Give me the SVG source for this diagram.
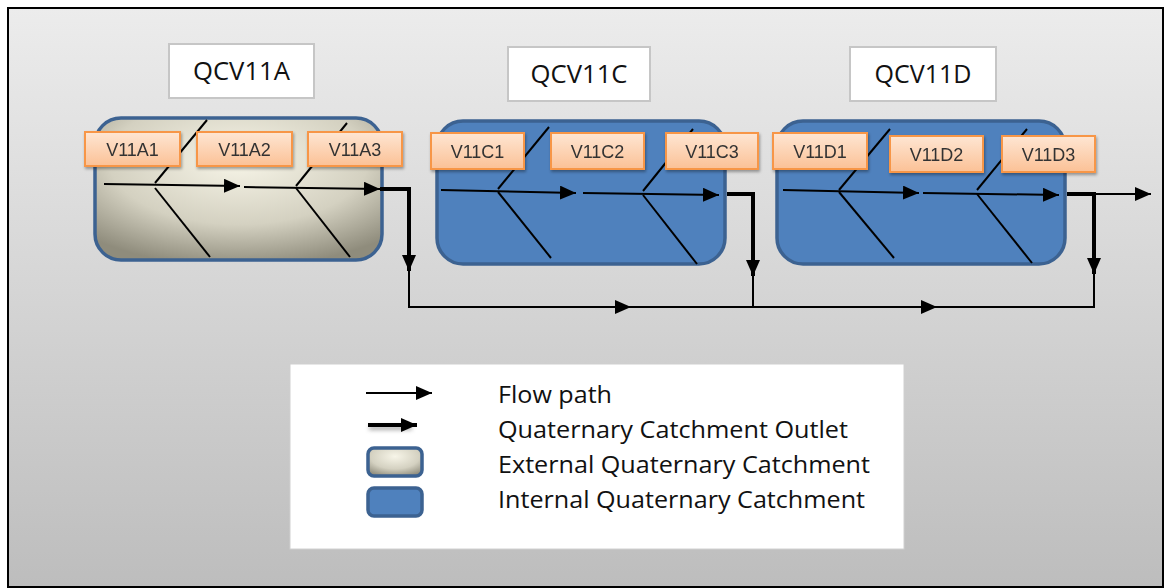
<svg xmlns="http://www.w3.org/2000/svg" width="1165" height="588" viewBox="0 0 1165 588">
<defs>
<linearGradient id="bg" x1="0" y1="0" x2="0" y2="1"><stop offset="0" stop-color="#ececec"/><stop offset="1" stop-color="#bdbdbd"/></linearGradient>
<radialGradient id="ext" cx="0.5" cy="0.3" r="0.75"><stop offset="0" stop-color="#f7f5e8"/><stop offset="0.6" stop-color="#d4d1c1"/><stop offset="1" stop-color="#8f8c7c"/></radialGradient>
<linearGradient id="lab" x1="0" y1="0" x2="0" y2="1"><stop offset="0" stop-color="#fee6d3"/><stop offset="1" stop-color="#fbc196"/></linearGradient>
<marker id="ah" markerWidth="16" markerHeight="14" refX="16" refY="7" orient="auto" markerUnits="userSpaceOnUse"><path d="M0,0 L16,7 L0,14 Z" fill="#000"/></marker>
<marker id="ahb" markerWidth="16" markerHeight="14" refX="16" refY="7" orient="auto" markerUnits="userSpaceOnUse"><path d="M0,0 L16,7 L0,14 Z" fill="#000"/></marker>
<filter id="sh" x="-10%" y="-10%" width="130%" height="140%"><feDropShadow dx="1" dy="2" stdDeviation="1.5" flood-color="#000" flood-opacity="0.35"/></filter>
<filter id="blur" filterUnits="userSpaceOnUse" x="350" y="410" width="90" height="30"><feGaussianBlur stdDeviation="2"/></filter>
</defs>
<style>
.title{fill:#fff;stroke:#c6c6c6;stroke-width:2}
.tt{font-family:"Open Sans","Liberation Sans",sans-serif;font-size:25px;fill:#111;text-anchor:middle}
.ext{fill:url(#ext);stroke:#3c6291;stroke-width:3.5}
.int{fill:#4f81bd;stroke:#3c6291;stroke-width:3.5}
.lab{fill:url(#lab);stroke:#f79646;stroke-width:2}
.lt{font-family:"Liberation Sans",Arial,sans-serif;font-size:18px;fill:#333;text-anchor:middle}
.fl{stroke:#000;stroke-width:2;fill:none}
.bone{stroke:#000;stroke-width:2;fill:none}
.out{stroke:#000;stroke-width:4;fill:none}
.leg{font-family:"Open Sans","Liberation Sans",sans-serif;font-size:24px;fill:#111}
</style>
<rect x="0" y="0" width="1165" height="588" fill="#fff"/>
<rect x="8" y="8" width="1155" height="579" fill="url(#bg)" stroke="#000" stroke-width="2"/>

<g id="QCV11A"><rect class="title" x="169" y="44" width="145" height="54"/><text class="tt" x="241.5" y="80" textLength="97" lengthAdjust="spacingAndGlyphs">QCV11A</text></g>
<g id="QCV11C"><rect class="title" x="508" y="47" width="142" height="54"/><text class="tt" x="579" y="83" textLength="97" lengthAdjust="spacingAndGlyphs">QCV11C</text></g>
<g id="QCV11D"><rect class="title" x="850" y="47" width="146" height="54"/><text class="tt" x="923" y="83" textLength="97" lengthAdjust="spacingAndGlyphs">QCV11D</text></g>

<g id="catchA"><rect class="ext" x="95" y="118" width="287" height="142" rx="26"/></g>
<g id="catchC"><rect class="int" x="437" y="121" width="288" height="143" rx="26"/></g>
<g id="catchD"><rect class="int" x="777" y="121" width="288" height="143" rx="26"/></g>

<g id="connectors">
<line class="bone" x1="207" y1="120" x2="155" y2="183"/>
<line class="bone" x1="155" y1="188" x2="210" y2="257"/>
<line class="bone" x1="347" y1="123" x2="296" y2="186"/>
<line class="bone" x1="296" y1="188" x2="350" y2="257"/>
<line class="fl" x1="104" y1="184" x2="240" y2="186" marker-end="url(#ah)"/>
<line class="fl" x1="244" y1="187" x2="380" y2="189" marker-end="url(#ah)"/>

<line class="bone" x1="549" y1="127" x2="498" y2="189"/>
<line class="bone" x1="498" y1="192" x2="551" y2="258"/>
<line class="bone" x1="693" y1="129" x2="643" y2="191"/>
<line class="bone" x1="643" y1="195" x2="697" y2="264"/>
<line class="fl" x1="441" y1="190" x2="576" y2="193" marker-end="url(#ah)"/>
<line class="fl" x1="583" y1="193" x2="719" y2="195" marker-end="url(#ah)"/>

<line class="bone" x1="890" y1="129" x2="839" y2="190"/>
<line class="bone" x1="839" y1="192" x2="894" y2="258"/>
<line class="bone" x1="1027" y1="129" x2="977" y2="190"/>
<line class="bone" x1="977" y1="194" x2="1032" y2="263"/>
<line class="fl" x1="783" y1="190" x2="919" y2="193" marker-end="url(#ah)"/>
<line class="fl" x1="923" y1="193" x2="1059" y2="195" marker-end="url(#ah)"/>

<polyline class="out" points="380,189 409,189 409,271" marker-end="url(#ahb)"/>
<polyline class="out" points="727,194 753,194 753,276" marker-end="url(#ahb)"/>
<polyline class="out" points="1067,194 1094,194 1094,274" marker-end="url(#ahb)"/>
<line class="fl" x1="1094" y1="194" x2="1151" y2="194" marker-end="url(#ah)"/>

<polyline class="fl" points="409,268 409,307 631,307"/>
<line class="fl" x1="620" y1="307" x2="631" y2="307" marker-end="url(#ah)"/>
<polyline class="fl" points="631,307 937,307"/>
<line class="fl" x1="925" y1="307" x2="937" y2="307" marker-end="url(#ah)"/>
<polyline class="fl" points="937,307 1094,307 1094,270"/>
<line class="fl" x1="753" y1="272" x2="753" y2="307"/>
</g>

<g id="labels" filter="url(#sh)">
<g id="V11A1"><rect class="lab" x="85" y="132" width="95" height="34"/><text class="lt" x="132.5" y="156">V11A1</text></g>
<g id="V11A2"><rect class="lab" x="197" y="132" width="95" height="34"/><text class="lt" x="244.5" y="156">V11A2</text></g>
<g id="V11A3"><rect class="lab" x="308" y="132" width="94" height="34"/><text class="lt" x="355" y="156">V11A3</text></g>
<g id="V11C1"><rect class="lab" x="431" y="133" width="93" height="36"/><text class="lt" x="477.5" y="158">V11C1</text></g>
<g id="V11C2"><rect class="lab" x="551" y="133" width="93" height="36"/><text class="lt" x="597.5" y="158">V11C2</text></g>
<g id="V11C3"><rect class="lab" x="666" y="133" width="92" height="36"/><text class="lt" x="712" y="158">V11C3</text></g>
<g id="V11D1"><rect class="lab" x="773" y="133" width="94" height="36"/><text class="lt" x="820" y="158">V11D1</text></g>
<g id="V11D2"><rect class="lab" x="890" y="136" width="93" height="36"/><text class="lt" x="936.5" y="161">V11D2</text></g>
<g id="V11D3"><rect class="lab" x="1002" y="136" width="93" height="36"/><text class="lt" x="1048.5" y="161">V11D3</text></g>
</g>

<g id="legend">
<rect x="290" y="364" width="614" height="185" fill="#fff" stroke="#d0d0d0" stroke-width="1"/>
<line class="fl" x1="366" y1="393" x2="432" y2="393" marker-end="url(#ah)"/>
<line x1="369" y1="428" x2="412" y2="428" stroke="#555" stroke-width="4" filter="url(#blur)" opacity="0.5"/>
<line x1="368" y1="425" x2="417" y2="425" stroke="#000" stroke-width="4" marker-end="url(#ahb)"/>
<rect class="ext" x="368" y="448" width="54" height="28" rx="6"/>
<rect class="int" x="368" y="488" width="54" height="28" rx="6"/>
<text class="leg" x="498" y="403" textLength="114" lengthAdjust="spacingAndGlyphs">Flow path</text>
<text class="leg" x="498" y="438" textLength="350" lengthAdjust="spacingAndGlyphs">Quaternary Catchment Outlet</text>
<text class="leg" x="498" y="473" textLength="372" lengthAdjust="spacingAndGlyphs">External Quaternary Catchment</text>
<text class="leg" x="498" y="508" textLength="367" lengthAdjust="spacingAndGlyphs">Internal Quaternary Catchment</text>
</g>
</svg>
